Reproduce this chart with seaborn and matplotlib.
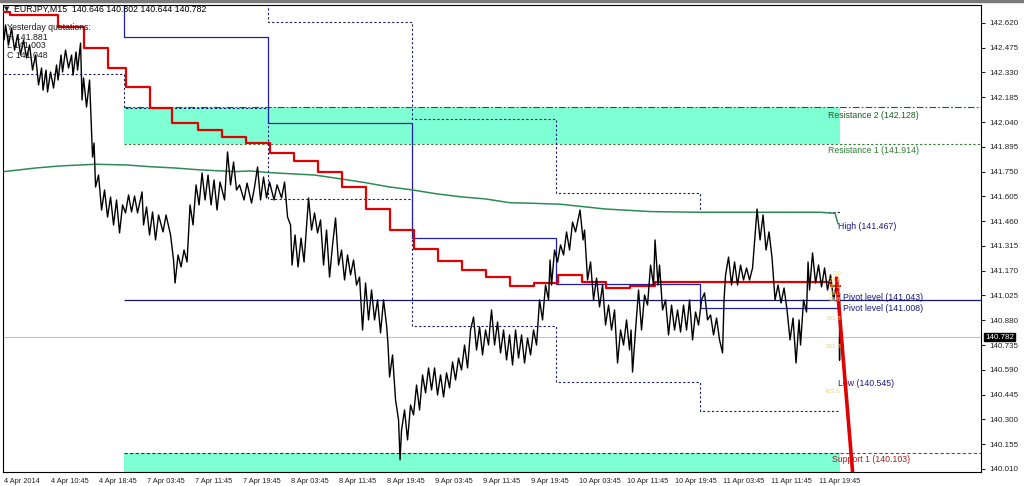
import matplotlib
matplotlib.use("Agg")
import matplotlib.pyplot as plt
import matplotlib.transforms as mtransforms
from matplotlib.patches import Rectangle
import seaborn as sns

# ---------------------------------------------------------------------------
# EURJPY M15 - bar index (15 min bars) and price, traced high/low zigzag
price_bar = [0, 1, 3, 5, 7, 9, 11, 13, 15, 17,
             19, 21, 23, 25, 26, 28, 29, 31, 33, 35,
             36, 38, 39, 41, 43, 45, 46, 48, 49, 51,
             52, 53, 55, 57, 59, 60, 61, 63, 65, 67,
             69, 71, 73, 75, 77, 79, 81, 83, 85, 87,
             89, 92, 93, 95, 97, 99, 101, 103, 106, 108,
             111, 113, 114, 116, 118, 120, 122, 124, 126, 128,
             130, 132, 134, 136, 138, 140, 142, 144, 147, 149,
             151, 153, 155, 157, 160, 162, 165, 167, 169, 171,
             173, 175, 177, 180, 182, 185, 187, 189, 191, 192,
             194, 196, 198, 200, 203, 205, 207, 209, 211, 213,
             215, 217, 219, 221, 223, 225, 227, 229, 231, 233,
             235, 237, 239, 241, 243, 245, 247, 249, 251, 253,
             255, 256, 257, 259, 261, 263, 264, 265, 267, 269,
             271, 273, 275, 277, 279, 281, 283, 285, 287, 289,
             291, 293, 295, 297, 299, 301, 303, 305, 307, 309,
             311, 313, 315, 317, 319, 321, 323, 324, 325, 327,
             329, 331, 333, 335, 337, 339, 341, 343, 345, 347,
             349, 351, 353, 355, 357, 359, 361, 363, 364, 365,
             367, 369, 371, 373, 375, 377, 379, 381, 384, 386,
             387, 389, 391, 393, 395, 397, 399, 401, 403, 405,
             407, 409, 411, 413, 415, 417, 418, 419, 421, 423,
             425, 427, 429, 431, 433, 434, 436, 437, 439, 441,
             443, 445, 447, 449, 451, 453, 455, 457, 459, 461,
             463, 465, 467, 469, 471, 473, 475, 477, 479, 480,
             481, 483, 485, 487, 489, 491, 493, 495, 497, 499,
             502, 504, 506, 508, 510, 512, 514, 516, 518, 520,
             522, 524, 526, 528, 530, 531, 533, 535, 536, 537,
             539, 541, 543, 545, 547, 549, 551, 553, 555, 556,
             557, 557, 557]
price_val = [142.520, 142.608, 142.491, 142.590, 142.461, 142.549, 142.432, 142.520, 142.415, 142.491,
             142.344, 142.432, 142.257, 142.356, 142.227, 142.344, 142.216, 142.333, 142.239, 142.374,
             142.286, 142.432, 142.333, 142.461, 142.356, 142.432, 142.315, 142.450, 142.344, 142.502,
             142.169, 142.298, 142.128, 142.286, 141.835, 141.917, 141.660, 141.730, 141.525, 141.642,
             141.484, 141.601, 141.438, 141.584, 141.391, 141.555, 141.508, 141.613, 141.514, 141.607,
             141.508, 141.631, 141.438, 141.543, 141.379, 141.514, 141.350, 141.496, 141.397, 141.496,
             141.379, 141.233, 141.098, 141.262, 141.192, 141.291, 141.221, 141.555, 141.438, 141.672,
             141.555, 141.742, 141.584, 141.730, 141.555, 141.701, 141.525, 141.689, 141.584, 141.865,
             141.672, 141.806, 141.642, 141.672, 141.584, 141.683, 141.566, 141.660, 141.777, 141.584,
             141.718, 141.596, 141.689, 141.584, 141.672, 141.596, 141.689, 141.484, 141.438, 141.203,
             141.379, 141.192, 141.361, 141.221, 141.596, 141.408, 141.508, 141.391, 141.467, 141.203,
             141.408, 141.133, 141.321, 141.478, 141.203, 141.291, 141.116, 141.262, 141.145, 141.233,
             141.086, 141.133, 140.823, 141.098, 140.882, 141.057, 140.882, 140.999, 140.806, 140.999,
             140.852, 140.735, 140.548, 140.677, 140.414, 140.297, 140.063, 140.238, 140.355, 140.180,
             140.384, 140.326, 140.501, 140.355, 140.560, 140.455, 140.601, 140.472, 140.601, 140.443,
             140.560, 140.431, 140.572, 140.484, 140.636, 140.531, 140.659, 140.589, 140.735, 140.601,
             140.823, 140.899, 140.706, 140.841, 140.677, 140.823, 140.735, 140.852, 140.940, 140.735,
             140.870, 140.689, 140.823, 140.648, 140.794, 140.618, 140.823, 140.659, 140.794, 140.630,
             140.776, 140.677, 140.823, 140.735, 140.999, 140.882, 141.086, 140.999, 141.233, 141.086,
             141.291, 141.221, 141.321, 141.262, 141.397, 141.291, 141.455, 141.397, 141.525, 141.350,
             141.408, 141.116, 141.221, 140.999, 141.127, 140.958, 141.086, 140.852, 140.969, 140.823,
             140.940, 140.630, 140.823, 140.735, 140.882, 140.706, 140.823, 140.577, 140.823, 141.057,
             140.823, 141.028, 140.969, 141.203, 141.086, 141.350, 141.086, 141.203, 140.940, 140.999,
             140.794, 140.969, 140.823, 140.940, 140.811, 140.969, 140.823, 140.999, 140.765, 140.928,
             140.852, 140.999, 141.040, 140.882, 140.911, 140.794, 140.893, 140.765, 140.689, 140.999,
             141.145, 141.250, 141.086, 141.221, 141.086, 141.203, 141.116, 141.186, 141.116, 141.186,
             141.531, 141.350, 141.496, 141.291, 141.397, 141.244, 140.999, 141.086, 140.981, 141.069,
             140.940, 140.765, 140.893, 140.630, 140.882, 140.735, 140.999, 140.928, 141.221, 141.057,
             141.274, 141.098, 141.203, 141.075, 141.186, 141.057, 141.145, 140.999, 141.098, 140.999,
             141.040, 140.648, 140.782]

# green moving average
ma_bar = [0, 21, 37, 61, 81, 97, 114, 131, 154, 164, 177, 207, 225, 241,
          257, 272, 289, 305, 321, 337, 351, 371, 401, 431, 464, 544, 554, 556]
ma_val = [141.750, 141.771, 141.783, 141.793, 141.789, 141.779, 141.771, 141.760,
          141.750, 141.754, 141.744, 141.730, 141.707, 141.685, 141.660, 141.643,
          141.619, 141.602, 141.590, 141.568, 141.565, 141.559, 141.531, 141.516,
          141.512, 141.512, 141.506, 141.444]

# red stepped indicator
red_bar = [0, 4, 36, 53, 69, 81, 97, 112, 129, 145, 161, 177, 193, 209, 225,
           241, 257, 273, 289, 305, 321, 337, 353, 369, 385, 401, 417, 434, 551, 557]
red_val = [142.684, 142.666, 142.596, 142.473, 142.356, 142.245, 142.122, 142.034,
           141.993, 141.952, 141.917, 141.859, 141.812, 141.748, 141.660, 141.531,
           141.408, 141.297, 141.227, 141.174, 141.133, 141.081, 141.098, 141.145,
           141.104, 141.069, 141.081, 141.104, 141.081, 141.081]

# daily levels (step per day)
day_bar = [0, 80, 176, 272, 368, 464, 557]
prev_high = [142.80, 142.80, 142.625, 142.058, 141.625, 141.514, 141.514]
prev_low = [142.321, 142.122, 141.590, 140.847, 140.519, 140.349, 140.349]
day_pivot = [142.80, 142.539, 142.036, 141.361, 141.092, 140.954, 140.954]

# red fibo line
fibo_bar = [555, 566]
fibo_val = [141.127, 139.960]
fibo_lab = ["0.0", "23.6", "38.2", "50.0", "61.8", "161.8", "261.8", "423.6"]
fibo_lab_val = [141.151, 141.110, 141.075, 141.034, 140.999, 140.893, 140.724, 140.466]

week_pivot = 140.996
r2, r1, s1 = 142.128, 141.914, 140.103
last_close = 140.782
box_start, box_end = 80, 557

y_ticks = [140.010, 140.155, 140.300, 140.445, 140.590, 140.735, 140.880, 141.025,
           141.170, 141.315, 141.460, 141.605, 141.750, 141.895, 142.040, 142.185,
           142.330, 142.475, 142.620]
x_tick_pos = [0, 31, 63, 95, 127, 159, 191, 223, 255, 287, 319, 351, 383, 415, 447, 479, 511, 543]
x_tick_lab = ["4 Apr 2014", "4 Apr 10:45", "4 Apr 18:45", "7 Apr 03:45", "7 Apr 11:45",
              "7 Apr 19:45", "8 Apr 03:45", "8 Apr 11:45", "8 Apr 19:45", "9 Apr 03:45",
              "9 Apr 11:45", "9 Apr 19:45", "10 Apr 03:45", "10 Apr 11:45", "10 Apr 19:45",
              "11 Apr 03:45", "11 Apr 11:45", "11 Apr 19:45"]

# ---------------------------------------------------------------------------
sns.set_style("white")
plt.rcParams["font.family"] = ["Liberation Sans", "DejaVu Sans"]

fig = plt.figure(figsize=(10.24, 4.86), dpi=100)
fig.patch.set_facecolor("white")
ax = fig.add_axes([3 / 1024, 14 / 486, 978 / 1024, 467 / 486])
ax.set_xlim(-0.7, 651.3)
ax.set_ylim(139.992, 142.725)
xmax = 651.3

# zones
ax.fill_between([box_start, box_end], r1, r2, color="#7fffd4", lw=0, zorder=1)
ax.fill_between([box_start, box_end], 139.9, s1, color="#7fffd4", lw=0, zorder=1)

# level lines
ax.hlines(r2, box_start, xmax, colors="#1e5e1e", linestyles=(0, (6, 2, 1.5, 2)), lw=0.8, zorder=2)
ax.hlines(r1, box_start, xmax, colors="#2e7d32", linestyles=(0, (2, 2)), lw=0.8, zorder=2)
ax.hlines(s1, box_start, box_end, colors="#333333", linestyles=(0, (3, 2)), lw=0.8, zorder=2)
ax.hlines(s1, box_end, xmax, colors="#b03030", linestyles=(0, (3, 2)), lw=0.8, zorder=2)
ax.hlines(week_pivot, box_start, xmax, colors="#14146e", lw=0.9, zorder=2)
ax.axhline(last_close, color="#c4c4c4", lw=0.8, zorder=1.5)

# daily high / low / pivot
sns.lineplot(x=day_bar, y=prev_high, ax=ax, estimator=None, sort=False, drawstyle="steps-post",
             color="#1a1a6e", lw=0.8, linestyle=(0, (2, 2)), zorder=2)
sns.lineplot(x=day_bar, y=prev_low, ax=ax, estimator=None, sort=False, drawstyle="steps-post",
             color="#1a1a6e", lw=0.8, linestyle=(0, (2, 2)), zorder=2)
sns.lineplot(x=day_bar, y=day_pivot, ax=ax, estimator=None, sort=False, drawstyle="steps-post",
             color="#1f1fa8", lw=0.9, zorder=2)

# indicators
sns.lineplot(x=ma_bar, y=ma_val, ax=ax, estimator=None, sort=False, color="#2e8b57", lw=1.1, zorder=3)
sns.lineplot(x=red_bar, y=red_val, ax=ax, estimator=None, sort=False, drawstyle="steps-post",
             color="#e00000", lw=1.6, zorder=3)

# price
sns.lineplot(x=price_bar, y=price_val, ax=ax, estimator=None, sort=False, color="black", lw=1.0, zorder=4)

# fibo line + labels
sns.lineplot(x=fibo_bar, y=fibo_val, ax=ax, estimator=None, sort=False, color="#e00000", lw=2.6, zorder=5)
for lab, v in zip(fibo_lab, fibo_lab_val):
    ax.text(558, v, lab, fontsize=4.5, color="#e6dc50", ha="right", va="center", zorder=6)

# level labels
lab_kw = dict(fontsize=6.3, va="center", zorder=3.5)
ax.text(549, 142.081, "Resistance 2 (142.128)", color="#1e5e1e", **lab_kw)
ax.text(549, 141.871, "Resistance 1 (141.914)", color="#2e7d32", **lab_kw)
ax.text(556, 141.426, "High (141.467)", color="#1a1a80", **lab_kw)
ax.text(559, 141.012, "Pivot level (141.043)", color="#1a1a80", **lab_kw)
ax.text(559, 140.950, "Pivot level (141.008)", color="#1a1a80", **lab_kw)
ax.text(556, 140.507, "Low (140.545)", color="#1a1a80", **lab_kw)
ax.text(552, 140.063, "Support 1 (140.103)", color="#a02020", **lab_kw)

# axes styling
for sp in ax.spines.values():
    sp.set_color("black")
    sp.set_linewidth(0.8)
ax.yaxis.tick_right()
ax.set_yticks(y_ticks)
ax.set_yticklabels([f"{v:.3f}" for v in y_ticks])
ax.tick_params(axis="y", direction="out", length=3, pad=3, labelsize=5.8, colors="#222222")
ax.set_xticks(x_tick_pos)
ax.set_xticklabels(x_tick_lab, ha="left")
ax.tick_params(axis="x", direction="out", length=3, pad=1.5, labelsize=5.3, colors="#222222")
ax.set_xlabel("")
ax.set_ylabel("")

# current price tag
trans = mtransforms.blended_transform_factory(ax.transAxes, ax.transData)
ax.text(1.004, last_close, "140.782", transform=trans, ha="left", va="center", fontsize=5.8,
        color="white", bbox=dict(boxstyle="square,pad=0.12", fc="black", ec="black"), zorder=10)

# header and info
fig.add_artist(Rectangle((0, 1 - 2 / 486), 1, 2 / 486, transform=fig.transFigure, color="#7a7a7a"))
fig.text(4 / 1024, 1 - 9 / 486, "▼", fontsize=5, va="center", color="#202020",
         family=["DejaVu Sans"])
fig.text(14 / 1024, 1 - 9 / 486, "EURJPY,M15  140.646 140.802 140.644 140.782",
         fontsize=6.3, va="center", color="black")
info = ["Yesterday quotations:", "H 141.881", "L 141.003", "C 141.048"]
for i, t in enumerate(info):
    fig.text(7 / 1024, 1 - (28 + 9 * i) / 486, t, fontsize=6.3, va="center", color="#202020")

fig.savefig("out.png", dpi=100, facecolor="white")
